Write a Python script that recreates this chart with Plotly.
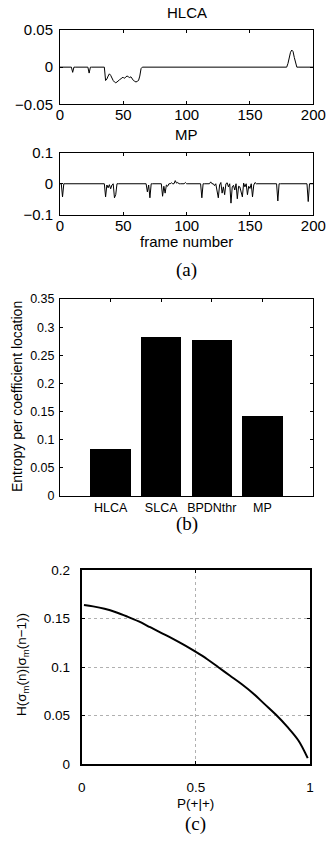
import plotly.graph_objects as go

W, H = 326, 853

# ---------------- data ----------------
n_frames = 201
hlca_frames = [9, 10, 11, 22, 23, 24,
               35, 36, 37, 38, 39, 40, 41, 42, 43, 44, 45, 46, 47, 48, 49, 50,
               51, 52, 53, 54, 55, 56, 57, 58, 59, 60, 61, 62, 63, 64, 65,
               179, 180, 181, 182, 183, 184, 185, 186, 187]
hlca_values = [0, -0.007, 0, 0, -0.008, 0,
               0, -0.018, -0.016, -0.012, -0.009, -0.011, -0.016, -0.018, -0.020, -0.021,
               -0.020, -0.018, -0.017, -0.016, -0.014, -0.014, -0.015, -0.013, -0.012,
               -0.013, -0.014, -0.013, -0.016, -0.018, -0.019, -0.020, -0.019, -0.018,
               -0.012, -0.002, 0,
               0, 0.005, 0.014, 0.020, 0.023, 0.021, 0.013, 0.004, 0]

mp_frames = [2, 36, 37, 38, 39, 40, 41, 43, 44,
             69, 70, 71, 81, 82, 83, 84, 85, 88, 91, 92, 93, 99, 112,
             119, 122, 124, 125, 126, 127, 128, 129, 130, 132, 133, 135, 136, 137,
             138, 140, 141, 142, 143, 144, 145, 146, 148, 149, 150, 152, 153, 154,
             172, 196]
mp_values = [-0.042, -0.042, -0.004, -0.013, -0.003, -0.016, -0.004, -0.045, -0.035,
             -0.026, -0.004, -0.045, -0.040, -0.008, -0.030, -0.004, -0.008, 0.003,
             0.010, 0.002, 0.004, 0.004, -0.045,
             0.006, -0.006, -0.030, -0.045, -0.004, 0.004, -0.030, -0.010, -0.035,
             0.003, -0.010, -0.062, -0.010, -0.005, -0.020, -0.048, -0.008, -0.010,
             -0.030, -0.042, 0.002, -0.010, -0.035, -0.008, -0.015, -0.042, -0.004,
             0.004, -0.055, -0.057]

a_xticks = [0, 50, 100, 150, 200]
hlca_yticks = [-0.05, 0, 0.05]
hlca_yticktext = ["\u22120.05", "0", "0.05"]
mp_yticks = [-0.1, 0, 0.1]
mp_yticktext = ["\u22120.1", "0", "0.1"]

methods = ["HLCA", "SLCA", "BPDNthr", "MP"]
entropy = [0.084, 0.282, 0.277, 0.142]
b_yticks = [0, 0.05, 0.1, 0.15, 0.2, 0.25, 0.3, 0.35]
b_yticktext = ["0", "0.05", "0.1", "0.15", "0.2", "0.25", "0.3", "0.35"]

p_pp = [0.01, 0.05, 0.1, 0.15, 0.2, 0.25, 0.3, 0.35, 0.4, 0.45, 0.5,
        0.55, 0.6, 0.65, 0.7, 0.75, 0.8, 0.85, 0.9, 0.95, 0.99]
h_cond = [0.164, 0.1625, 0.160, 0.1565, 0.152, 0.147, 0.141, 0.135, 0.129, 0.1225,
          0.1155, 0.108, 0.0995, 0.091, 0.0825, 0.073, 0.062, 0.051, 0.0385, 0.024, 0.006]
c_xticks = [0, 0.5, 1]
c_xticktext = ["0", "0.5", "1"]
c_yticks = [0, 0.05, 0.1, 0.15, 0.2]
c_yticktext = ["0", "0.05", "0.1", "0.15", "0.2"]

# build full frame series
frames = list(range(n_frames))
hlca = [0.0] * n_frames
for f, v in zip(hlca_frames, hlca_values):
    hlca[f] = v
mp = [0.0] * n_frames
for f, v in zip(mp_frames, mp_values):
    mp[f] = v

# ---------------- helpers ----------------
def px_x(a, b):
    return [a / W, b / W]

def px_y(top, bottom):
    return [1 - bottom / H, 1 - top / H]

SANS = "Liberation Sans, Arial, Helvetica, sans-serif"
SERIF = "Liberation Serif, Times New Roman, serif"

fig = go.Figure()
fig.add_trace(go.Scatter(x=frames, y=hlca, mode="lines", line=dict(color="black", width=1),
                         xaxis="x", yaxis="y", showlegend=False, hoverinfo="skip"))
fig.add_trace(go.Scatter(x=frames, y=mp, mode="lines", line=dict(color="black", width=1),
                         xaxis="x2", yaxis="y2", showlegend=False, hoverinfo="skip"))
fig.add_trace(go.Bar(x=[1, 2, 3, 4], y=entropy, width=0.8, marker=dict(color="black", line=dict(width=0)),
                     xaxis="x3", yaxis="y3", showlegend=False, hoverinfo="skip"))
fig.add_trace(go.Scatter(x=p_pp, y=h_cond, mode="lines", line=dict(color="black", width=2, shape="spline"),
                         xaxis="x4", yaxis="y4", showlegend=False, hoverinfo="skip"))

common = dict(showline=True, linecolor="black", linewidth=1, mirror="ticks", ticks="inside",
              ticklen=3, tickcolor="black", showgrid=False, zeroline=False, fixedrange=True,
              automargin=False)

fa = dict(family=SANS, size=15, color="black")
fb = dict(family=SANS, size=12.5, color="black")
fb_title = dict(family=SANS, size=14, color="black")
fc = dict(family=SANS, size=13.5, color="black")
fcap = dict(family=SERIF, size=19, color="black")

cstyle = dict(showline=True, linecolor="black", linewidth=2, mirror="ticks", ticks="inside",
              ticklen=3, tickcolor="black", zeroline=False, fixedrange=True, automargin=False,
              showgrid=True, gridcolor="#b0b0b0", griddash="dot", gridwidth=1)

layout = dict(
    template="none",
    width=W, height=H, margin=dict(l=0, r=0, t=0, b=0, pad=0, autoexpand=False),
    paper_bgcolor="white", plot_bgcolor="white", bargap=0,
    xaxis=dict(domain=px_x(60, 313.3), range=[0, 200], tickvals=a_xticks, tickfont=fa,
               ticklabelstandoff=-3, anchor="y", **common),
    yaxis=dict(domain=px_y(30, 104.3), range=[-0.05, 0.05], tickvals=hlca_yticks,
               ticktext=hlca_yticktext, tickfont=fa, ticklabelstandoff=3, anchor="x", **common),
    xaxis2=dict(domain=px_x(60, 313.3), range=[0, 200], tickvals=a_xticks, tickfont=fa,
                ticklabelstandoff=-3, anchor="y2", **common),
    yaxis2=dict(domain=px_y(152.5, 215), range=[-0.1, 0.1], tickvals=mp_yticks,
                ticktext=mp_yticktext, tickfont=fa, ticklabelstandoff=3, anchor="x2", **common),
    xaxis3=dict(domain=px_x(60, 313), range=[0, 5], tickvals=[1, 2, 3, 4], ticktext=methods,
                tickfont=fb, ticklabelstandoff=0, anchor="y3", **common),
    yaxis3=dict(domain=px_y(299, 496), range=[0, 0.35], tickvals=b_yticks, ticktext=b_yticktext,
                tickfont=fb, ticklabelstandoff=2, anchor="x3", **common),
    xaxis4=dict(domain=px_x(81.7, 310), range=[0, 1], tickvals=c_xticks, ticktext=c_xticktext,
                tickfont=fc, ticklabelstandoff=10, anchor="y4", **cstyle),
    yaxis4=dict(domain=px_y(570, 764), range=[0, 0.2], tickvals=c_yticks, ticktext=c_yticktext,
                tickfont=fc, ticklabelstandoff=7, anchor="x4", **cstyle),
)

def ann(text, xpx, ypx, font, angle=0):
    return dict(text=text, x=xpx / W, y=1 - ypx / H, xref="paper", yref="paper",
                xanchor="center", yanchor="middle", showarrow=False, font=font, textangle=angle)

layout["annotations"] = [
    ann("HLCA", 186.6, 12, fa),
    ann("MP", 186.6, 134, fa),
    ann("frame number", 186.6, 241, fa),
    ann("(a)", 186.6, 270, fcap),
    ann("Entropy per coefficient location", 17, 397, fb_title, angle=-90),
    ann("(b)", 186.6, 524, fcap),
    ann("H(σ<sub>m</sub>(n)|σ<sub>m</sub>(n\u22121))", 22, 665, fc, angle=-90),
    ann("P(+|+)", 195, 803, fc),
    ann("(c)", 195, 824, fcap),
]

fig.update_layout(**layout)
fig.write_html("out.html")
